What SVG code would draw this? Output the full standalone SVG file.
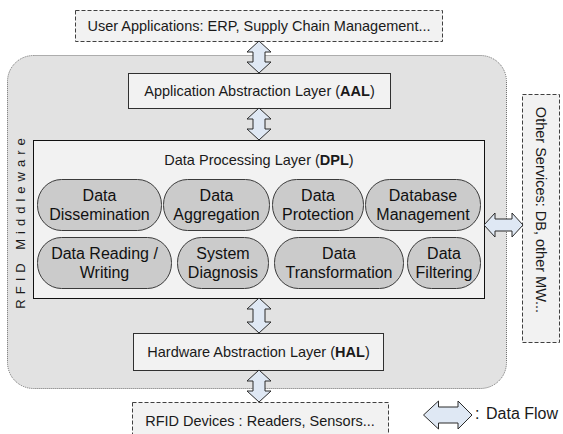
<svg xmlns="http://www.w3.org/2000/svg" width="563" height="434" viewBox="0 0 563 434">
<defs>
<style>
.dash{fill:#f2f2f2;stroke:#404040;stroke-width:1;stroke-dasharray:4,2}
.layer{fill:#f2f2f2;stroke:#303030;stroke-width:1}
.pill{fill:#cbcbcb;stroke:#3a3a3a;stroke-width:1}
.arr{fill:#dfe8f4;stroke:#2a2a2a;stroke-width:1;stroke-linejoin:miter}
.t{font-family:"Liberation Sans",Arial,sans-serif;font-size:14.5px;fill:#1a1a1a;text-anchor:middle}
.p{font-family:"Liberation Sans",Arial,sans-serif;font-size:16px;fill:#111;text-anchor:middle}
</style>
</defs>
<rect width="563" height="434" fill="#ffffff"/>
<g id="middleware">
<rect x="7.5" y="55.5" width="499" height="333" rx="26" ry="26" fill="#e2e2e2" stroke="#6a6a6a" stroke-width="1" stroke-dasharray="1,1"/>
<text class="t" transform="translate(25,221) rotate(-90)" style="font-size:13px;letter-spacing:5px">RFID Middleware</text>
</g>
<g id="user-apps">
<rect class="dash" x="75.5" y="10.5" width="367" height="31"/>
<text class="t" x="259" y="31">User Applications: ERP, Supply Chain Management...</text>
</g>
<g id="aal">
<rect class="layer" x="128.5" y="73.5" width="262" height="35"/>
<text class="t" x="259.5" y="96">Application Abstraction Layer (<tspan font-weight="bold">AAL</tspan>)</text>
</g>
<g id="dpl">
<rect x="33.5" y="140.5" width="451" height="158" fill="#f2f2f2" stroke="#111" stroke-width="1"/>
<text class="t" x="259" y="165">Data Processing Layer (<tspan font-weight="bold">DPL</tspan>)</text>
</g>
<g id="pill-dissemination">
<rect class="pill" x="37.5" y="179.5" width="124" height="51" rx="24" ry="25"/>
<text class="p" x="99.5" y="200.5">Data</text><text class="p" x="99.5" y="220">Dissemination</text>
</g>
<g id="pill-aggregation">
<rect class="pill" x="163.5" y="179.5" width="106" height="51" rx="24" ry="25"/>
<text class="p" x="216.5" y="200.5">Data</text><text class="p" x="216.5" y="220">Aggregation</text>
</g>
<g id="pill-protection">
<rect class="pill" x="272.5" y="179.5" width="91" height="51" rx="24" ry="25"/>
<text class="p" x="318" y="200.5">Data</text><text class="p" x="318" y="220">Protection</text>
</g>
<g id="pill-database">
<rect class="pill" x="365.5" y="179.5" width="115" height="51" rx="24" ry="25"/>
<text class="p" x="423" y="200.5">Database</text><text class="p" x="423" y="220">Management</text>
</g>
<g id="pill-reading">
<rect class="pill" x="37.5" y="237.5" width="134" height="51" rx="24" ry="25"/>
<text class="p" x="104.5" y="258.5">Data Reading /</text><text class="p" x="104.5" y="278">Writing</text>
</g>
<g id="pill-diagnosis">
<rect class="pill" x="177.5" y="237.5" width="91" height="51" rx="24" ry="25"/>
<text class="p" x="223" y="258.5">System</text><text class="p" x="223" y="278">Diagnosis</text>
</g>
<g id="pill-transformation">
<rect class="pill" x="274.5" y="237.5" width="129" height="51" rx="24" ry="25"/>
<text class="p" x="339" y="258.5">Data</text><text class="p" x="339" y="278">Transformation</text>
</g>
<g id="pill-filtering">
<rect class="pill" x="407.5" y="237.5" width="73" height="51" rx="24" ry="25"/>
<text class="p" x="444" y="258.5">Data</text><text class="p" x="444" y="278">Filtering</text>
</g>
<g id="hal">
<rect class="layer" x="133.5" y="333.5" width="250" height="37"/>
<text class="t" x="258.5" y="357">Hardware Abstraction Layer (<tspan font-weight="bold">HAL</tspan>)</text>
</g>
<g id="rfid-devices">
<rect class="dash" x="132.5" y="402.5" width="256" height="40"/>
<text class="t" x="260" y="426">RFID Devices : Readers, Sensors...</text>
</g>
<g id="other-services">
<rect class="dash" x="522.5" y="94.5" width="37" height="248"/>
<text class="t" transform="translate(536,210) rotate(90)">Other Services: DB, other MW...</text>
</g>
<g id="connectors">
<path class="arr" d="M259,41 L271,52 L265,52 L265,62 L271,62 L259,73 L247,62 L253,62 L253,52 L247,52 Z"/>
<path class="arr" d="M259,108 L271,119 L265,119 L265,129 L271,129 L259,140 L247,129 L253,129 L253,119 L247,119 Z"/>
<path class="arr" d="M259,298 L271,309 L265,309 L265,322 L271,322 L259,333 L247,322 L253,322 L253,309 L247,309 Z"/>
<path class="arr" d="M259,370 L271,381 L265,381 L265,391 L271,391 L259,402 L247,391 L253,391 L253,381 L247,381 Z"/>
<path class="arr" d="M484,225 L495,213 L495,219 L512,219 L512,213 L523,225 L512,237 L512,231 L495,231 L495,237 Z"/>
</g>
<g id="legend">
<path class="arr" d="M423.5,415 L438.5,401 L438.5,407 L458,407 L458,401 L472,415 L458,429 L458,423 L438.5,423 L438.5,429 Z"/>
<text class="t" x="475" y="419" style="text-anchor:start;font-size:16px">:</text>
<text class="t" x="486" y="419" style="text-anchor:start;font-size:16px">Data Flow</text>
</g>
</svg>
